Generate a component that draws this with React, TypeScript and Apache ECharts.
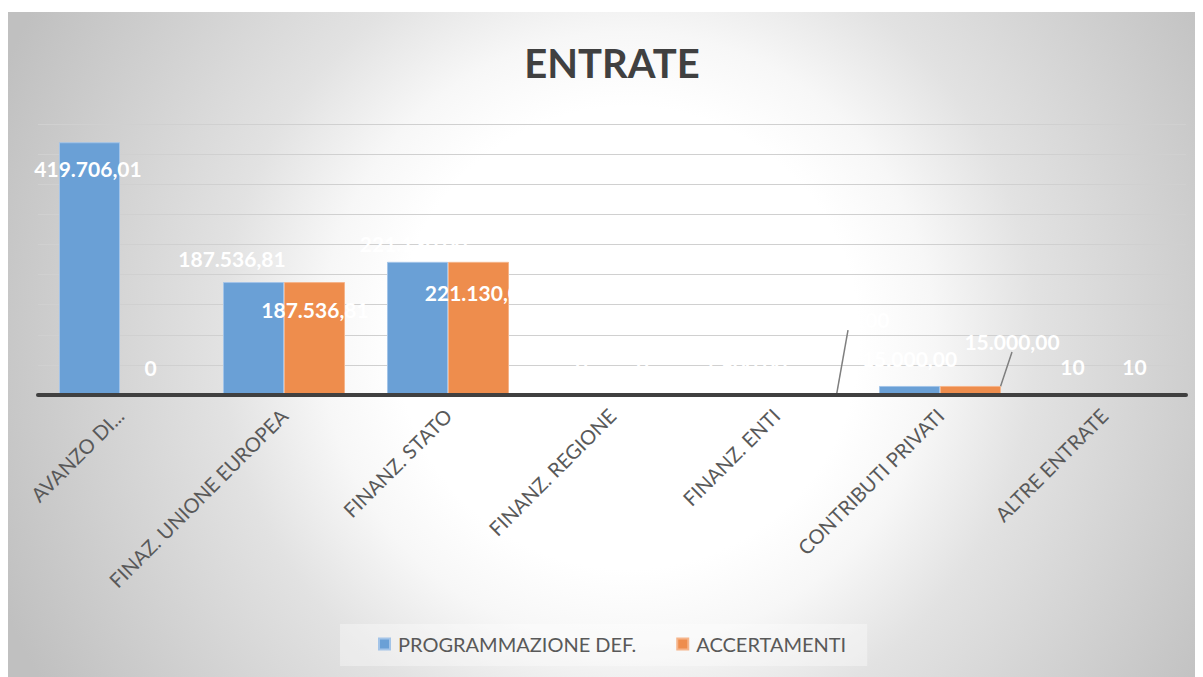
import React, { useEffect, useRef } from "react";
import * as echarts from "echarts";

const categories = [
  "AVANZO DI...",
  "FINAZ. UNIONE EUROPEA",
  "FINANZ. STATO",
  "FINANZ. REGIONE",
  "FINANZ. ENTI",
  "CONTRIBUTI PRIVATI",
  "ALTRE ENTRATE",
];
const programmazione = [419706.01, 187536.81, 221130.0, 0, 1500.0, 15000.0, 10];
const accertamenti = [0, 187536.81, 221130.0, 0, 1500.0, 15000.0, 10];
const seriesNames = ["PROGRAMMAZIONE DEF.", "ACCERTAMENTI"];
const yMax = 450000;
const yInterval = 50000;

// label placement (dx, dy) relative to the default "top" label position
const blueLabelShift = [
  [-1.5, 37],
  [-21.5, -13],
  [-4, -8],
  [0, -18],
  [0, -18],
  [0, -17],
  [-1, -17],
];
const orangeLabelShift = [
  [0, -17],
  [0.5, 38],
  [0, 41],
  [0, -18],
  [41.5, -64],
  [41.5, -34],
  [0, -17],
];
const leaderLines = [
  [false, false, false, false, false, false, false],
  [false, false, false, false, true, true, false],
];

const FONT = 'Lato, "Open Sans", "Noto Sans", sans-serif';

function formatIt(v: number): string {
  if (Number.isInteger(v) && Math.abs(v) < 100) return String(v);
  const fixed = v.toFixed(2);
  const [intPart, dec] = fixed.split(".");
  const withDots = intPart.replace(/\B(?=(\d{3})+(?!\d))/g, ".");
  return withDots + "," + dec;
}

export default function App() {
  const ref = useRef<HTMLDivElement>(null);
  useEffect(() => {
    if (!ref.current) return;
    const chart = echarts.init(ref.current, undefined, { renderer: "svg" });
    const W = 1195;
    const H = 669;
    const bg = new echarts.graphic.RadialGradient(
      620,
      330,
      680,
      [
        { offset: 0, color: "#ffffff" },
        { offset: 0.34, color: "#ffffff" },
        { offset: 0.45, color: "#f7f7f7" },
        { offset: 0.6, color: "#e2e2e2" },
        { offset: 1, color: "#c0c0c0" },
      ],
      true
    );
    const makeSeries = (idx: number, values: number[], color: string, border: string, shifts: number[][]) => ({
      name: seriesNames[idx],
      type: "bar",
      data: values.map((v, i) => ({
        value: v,
        labelLine: { show: leaderLines[idx][i] },
      })),
      barGap: "0%",
      barCategoryGap: "25.6%",
      itemStyle: { color, borderColor: border, borderWidth: 1 },
      label: {
        show: true,
        position: "top",
        distance: 0,
        color: "#ffffff",
        fontFamily: FONT,
        fontWeight: "bold",
        fontSize: 21,
        formatter: (p: any) => formatIt(p.value),
      },
      labelLine: {
        show: false,
        lineStyle: { color: "#7f7f7f", width: 1.5 },
      },
      labelLayout: (p: any) => ({
        dx: shifts[p.dataIndex][0],
        dy: shifts[p.dataIndex][1],
      }),
      z: 2,
    });
    chart.setOption({
      animation: false,
      graphic: [
        {
          type: "rect",
          silent: true,
          z: -10,
          shape: { x: 0, y: 4, width: W, height: H - 4 },
          style: { fill: bg },
        },
        {
          type: "text",
          silent: true,
          z: 10,
          style: {
            text: "ENTRATE",
            x: 604,
            y: 55,
            align: "center",
            verticalAlign: "middle",
            textAlign: "center",
            textVerticalAlign: "middle",
            fill: "#404040",
            font: `bold 40px ${FONT}`,
          },
        },
      ],
      legend: {
        data: seriesNames,
        left: 332,
        top: 616,
        padding: [10, 21, 12, 38],
        backgroundColor: "rgba(255,255,255,0.35)",
        itemGap: 40,
        itemWidth: 11,
        itemHeight: 11,
        icon: "rect",
        textStyle: {
          color: "#595959",
          fontFamily: FONT,
          fontSize: 20,
          padding: [0, 0, 0, 3],
        },
      },
      grid: { left: 30, right: 17, top: 116, bottom: 282, containLabel: false },
      xAxis: {
        type: "category",
        data: categories,
        z: 5,
        axisLine: { show: true, lineStyle: { color: "#404040", width: 4 } },
        axisTick: { show: false },
        axisLabel: {
          rotate: 45,
          interval: 0,
          margin: 17,
          color: "#595959",
          fontFamily: FONT,
          fontSize: 20,
        },
      },
      yAxis: {
        type: "value",
        min: 0,
        max: yMax,
        interval: yInterval,
        axisLine: { show: false },
        axisTick: { show: false },
        axisLabel: { show: false },
        splitLine: { show: true, lineStyle: { color: "#d0d0d0", width: 1 } },
      },
      series: [
        makeSeries(0, programmazione, "#6aa0d6", "#a3c4e8", blueLabelShift),
        makeSeries(1, accertamenti, "#ee8d4d", "#f5b48a", orangeLabelShift),
      ],
    });
    return () => chart.dispose();
  }, []);
  return <div ref={ref} style={{ width: 1195, height: 669 }} />;
}
